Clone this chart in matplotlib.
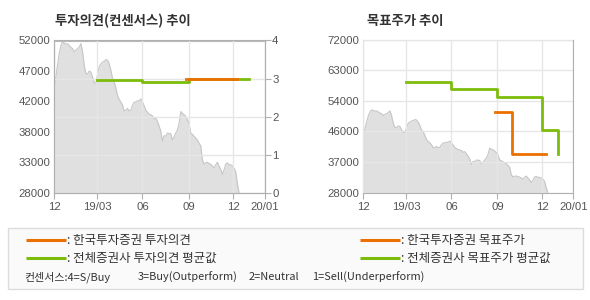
import matplotlib
matplotlib.use('Agg')
import matplotlib.pyplot as plt
from matplotlib.patches import Rectangle
from matplotlib.lines import Line2D
import numpy as np

KR = ['Noto Sans CJK KR', 'DejaVu Sans']
NUM = ['Liberation Sans', 'DejaVu Sans']

ORANGE = '#ec7000'
GREEN = '#7cbc0a'

# ---- data ----
# stock price (sampled evenly from 2018-12 start to ~2019-12-12)
stock_price = [
    44500, 46350, 48300, 50000, 51200, 51800, 51600, 51400, 51500, 51200,
    50900, 50700, 50200, 50500, 50700, 51000, 51500, 50200, 48000, 46800,
    46700, 47200, 47000, 46200, 45300, 45300, 46700, 47900, 48300, 48600,
    48700, 49000, 48900, 48300, 47300, 46000, 45500, 44500, 43300, 42700,
    42300, 41800, 40900, 41000, 41300, 40900, 41000, 41800, 42300, 42300,
    42500, 42500, 42800, 42300, 41700, 41000, 40700, 40400, 40300, 40100,
    39600, 39800, 39200, 38500, 37700, 36100, 37000, 36900, 37400, 37300,
    37300, 36300, 36800, 37400, 37900, 38950, 40800, 40500, 40300, 40000,
    39500, 38900, 37400, 37200, 36900, 36600, 36300, 35800, 35400, 33200,
    32500, 32700, 32800, 32600, 32500, 32200, 31900, 32400, 32800, 32200,
    31700, 30900, 31600, 32500, 32700, 32400, 32400, 32200, 31900, 31300,
    29500, 28000,
]
stock_first_day = 0
stock_last_day = 377

# consensus opinion (days from 2018-12-01)
firm_opinion_days = [269, 373]
firm_opinion = [3.0, 3.0]
avg_opinion_days = [88, 180, 274, 398]
avg_opinion = [2.95, 2.92, 3.0, 3.0]

# target price
firm_target_days = [269, 304, 373]
firm_target = [51150, 39200, 39200]
avg_target_days = [88, 180, 274, 365, 397]
avg_target = [59850, 57850, 55450, 46100, 39100]

x_tick_days = [0, 88, 180, 274, 365, 429]
x_tick_labels = ['12', '19/03', '06', '09', '12', '20/01']

left_price_ticks = [28000, 32800, 37600, 42400, 47200, 52000]
left_price_labels = ['28000', '33000', '38000', '42000', '47000', '52000']
opinion_ticks = [0, 1, 2, 3, 4]
opinion_labels = ['0', '1', '2', '3', '4']
right_price_ticks = [28000, 36800, 45600, 54400, 63200, 72000]
right_price_labels = ['28000', '37000', '46000', '54000', '63000', '72000']

# ---- figure ----
W, H = 590, 300
fig = plt.figure(figsize=(W / 100, H / 100), dpi=100)
fig.patch.set_facecolor('white')


def fx(px):
    return px / W


def fy(py):
    return 1 - py / H


SPINE = '#b0b0b0'
GRID = '#e6e6e6'
TXT = '#555555'

stock_x = np.linspace(stock_first_day, stock_last_day, len(stock_price))


def style_axes(ax):
    for s in ax.spines.values():
        s.set_color(SPINE)
        s.set_linewidth(0.8)
    ax.set_xlim(x_tick_days[0], x_tick_days[-1])
    ax.set_xticks(x_tick_days)
    ax.set_xticklabels(x_tick_labels, fontfamily=NUM, fontsize=8.2, color=TXT)
    ax.tick_params(axis='x', length=4, width=0.8, color=SPINE, pad=2.5)
    ax.tick_params(axis='y', length=0, pad=3)
    for lab in ax.get_yticklabels():
        lab.set_fontfamily(NUM)
        lab.set_fontsize(8.2)
        lab.set_color(TXT)


# left chart
ax1 = fig.add_axes([fx(54.3), fy(192.7), fx(264.5) - fx(54.3), (192.7 - 40.5) / H])
ax1.fill_between(stock_x, 28000, stock_price, color='#e0e0e0', lw=0, zorder=1)
ax1.plot(stock_x, stock_price, color='#c6c6c6', lw=0.8, zorder=1.2)
ax1.set_ylim(28000, 52000)
ax1.set_yticks(left_price_ticks)
ax1.set_yticklabels(left_price_labels)
style_axes(ax1)
ax1.grid(axis='x', color=GRID, lw=1)
ax1.set_axisbelow(False)

ax2 = ax1.twinx()
ax2.set_ylim(0, 4)
ax2.set_yticks(opinion_ticks)
ax2.set_yticklabels(opinion_labels, fontfamily=NUM, fontsize=8.2, color=TXT)
ax2.tick_params(axis='y', length=4, width=0.8, color=SPINE, pad=1.5)
for s in ax2.spines.values():
    s.set_color(SPINE)
    s.set_linewidth(0.8)
ax2.grid(axis='y', color=GRID, lw=1)
ax2.step(avg_opinion_days, avg_opinion, where='post', color=GREEN, lw=2, zorder=3)
ax2.step(firm_opinion_days, firm_opinion, where='post', color=ORANGE, lw=2, zorder=4)

# right chart
ax3 = fig.add_axes([fx(363.3), fy(192.7), fx(573.3) - fx(363.3), (192.7 - 39.5) / H])
ax3.fill_between(stock_x, 28000, stock_price, color='#e0e0e0', lw=0, zorder=1)
ax3.plot(stock_x, stock_price, color='#c6c6c6', lw=0.8, zorder=1.2)
ax3.set_ylim(28000, 72000)
ax3.set_yticks(right_price_ticks)
ax3.set_yticklabels(right_price_labels)
style_axes(ax3)
ax3.grid(True, color=GRID, lw=1)
ax3.set_axisbelow(False)
ax3.step(avg_target_days, avg_target, where='post', color=GREEN, lw=2, zorder=3)
ax3.step(firm_target_days, firm_target, where='post', color=ORANGE, lw=2, zorder=4)

# titles
fig.text(fx(55), fy(21), '투자의견(컨센서스) 추이', fontfamily=KR, fontsize=9.6,
         fontweight='bold', color='#333333', va='center', ha='left')
fig.text(fx(367), fy(21), '목표주가 추이', fontfamily=KR, fontsize=9.6,
         fontweight='bold', color='#333333', va='center', ha='left')

# legend box
fig.patches.append(Rectangle((fx(8.3), fy(289)), fx(583) - fx(8.3), (289 - 228.3) / H,
                             transform=fig.transFigure, facecolor='#fafafa',
                             edgecolor='#dcdcdc', lw=1, zorder=0))

legend_rows = [
    (26, 66, 240.3, ORANGE, ': 한국투자증권 투자의견'),
    (26, 66, 258.0, GREEN, ': 전체증권사 투자의견 평균값'),
    (360, 400, 240.3, ORANGE, ': 한국투자증권 목표주가'),
    (360, 400, 258.0, GREEN, ': 전체증권사 목표주가 평균값'),
]
for x0, x1, yy, col, label in legend_rows:
    fig.lines.append(Line2D([fx(x0), fx(x1)], [fy(yy), fy(yy)], transform=fig.transFigure,
                            color=col, lw=2.2, solid_capstyle='butt'))
    fig.text(fx(x1 + 1), fy(yy), label, fontfamily=KR, fontsize=9, color='#333333',
             va='center', ha='left')

note_parts = [
    (24.6, '컨센서스:4=S/Buy'),
    (138, '3=Buy(Outperform)'),
    (249, '2=Neutral'),
    (312.5, '1=Sell(Underperform)'),
]
for xx, t in note_parts:
    fig.text(fx(xx), fy(277.5), t, fontfamily=KR, fontsize=7.9, color='#333333',
             va='center', ha='left')

fig.savefig('out.png', dpi=100)
